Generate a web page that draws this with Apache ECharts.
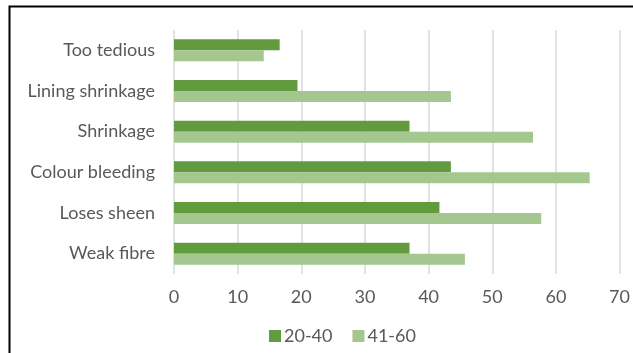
<!DOCTYPE html>
<html>
<head>
<meta charset="utf-8">
<script src="https://cdn.jsdelivr.net/npm/echarts@6/dist/echarts.min.js"></script>
<style>
  html, body { margin: 0; padding: 0; background: #fff; }
  #chart { width: 633px; height: 353px; }
</style>
</head>
<body>
<div id="chart"></div>
<script>
let categories = ['Too tedious', 'Lining shrinkage', 'Shrinkage', 'Colour bleeding', 'Loses sheen', 'Weak fibre'];
let age2040 = [16.6, 19.4, 37.0, 43.5, 41.7, 37.0];
let age4160 = [14.1, 43.5, 56.4, 65.3, 57.7, 45.7];
let seriesNames = ['20-40', '41-60'];

let myChart = echarts.init(document.getElementById('chart'));

let option = {
    animation: false,
    textStyle: { fontFamily: 'Lato' },
    // chart frame (cropped at right and bottom)
    graphic: [{
        type: 'rect',
        shape: { x: 9.5, y: 6.5, width: 700, height: 400 },
        style: { fill: 'none', stroke: '#000', lineWidth: 2 },
        silent: true
    }],
    legend: {
        data: seriesNames,
        left: 264,
        top: 322,
        itemWidth: 12,
        itemHeight: 12,
        itemGap: 20,
        icon: 'rect',
        textStyle: { color: '#595959', fontSize: 18, fontFamily: 'Lato', padding: [0, 0, 0, -2] }
    },
    grid: {
        left: 174,
        right: 13,
        top: 30,
        bottom: 79
    },
    xAxis: {
        type: 'value',
        min: 0,
        max: 70,
        interval: 10,
        axisLine: { show: false },
        axisTick: { show: false },
        axisLabel: { color: '#595959', fontSize: 18, margin: 14 },
        splitLine: { lineStyle: { color: '#d9d9d9', width: 1.5 } }
    },
    yAxis: {
        type: 'category',
        data: categories,
        inverse: true,
        axisLine: { show: false },
        axisTick: { show: false },
        axisLabel: { color: '#595959', fontSize: 18, margin: 19 }
    },
    series: [{
        name: seriesNames[0],
        type: 'bar',
        data: age2040,
        barGap: '0%',
        barCategoryGap: '46%',
        itemStyle: { color: '#629b3e' }
    }, {
        name: seriesNames[1],
        type: 'bar',
        data: age4160,
        barGap: '0%',
        barCategoryGap: '46%',
        itemStyle: { color: '#a4c78f' }
    }]
};

myChart.setOption(option);
</script>
</body>
</html>
